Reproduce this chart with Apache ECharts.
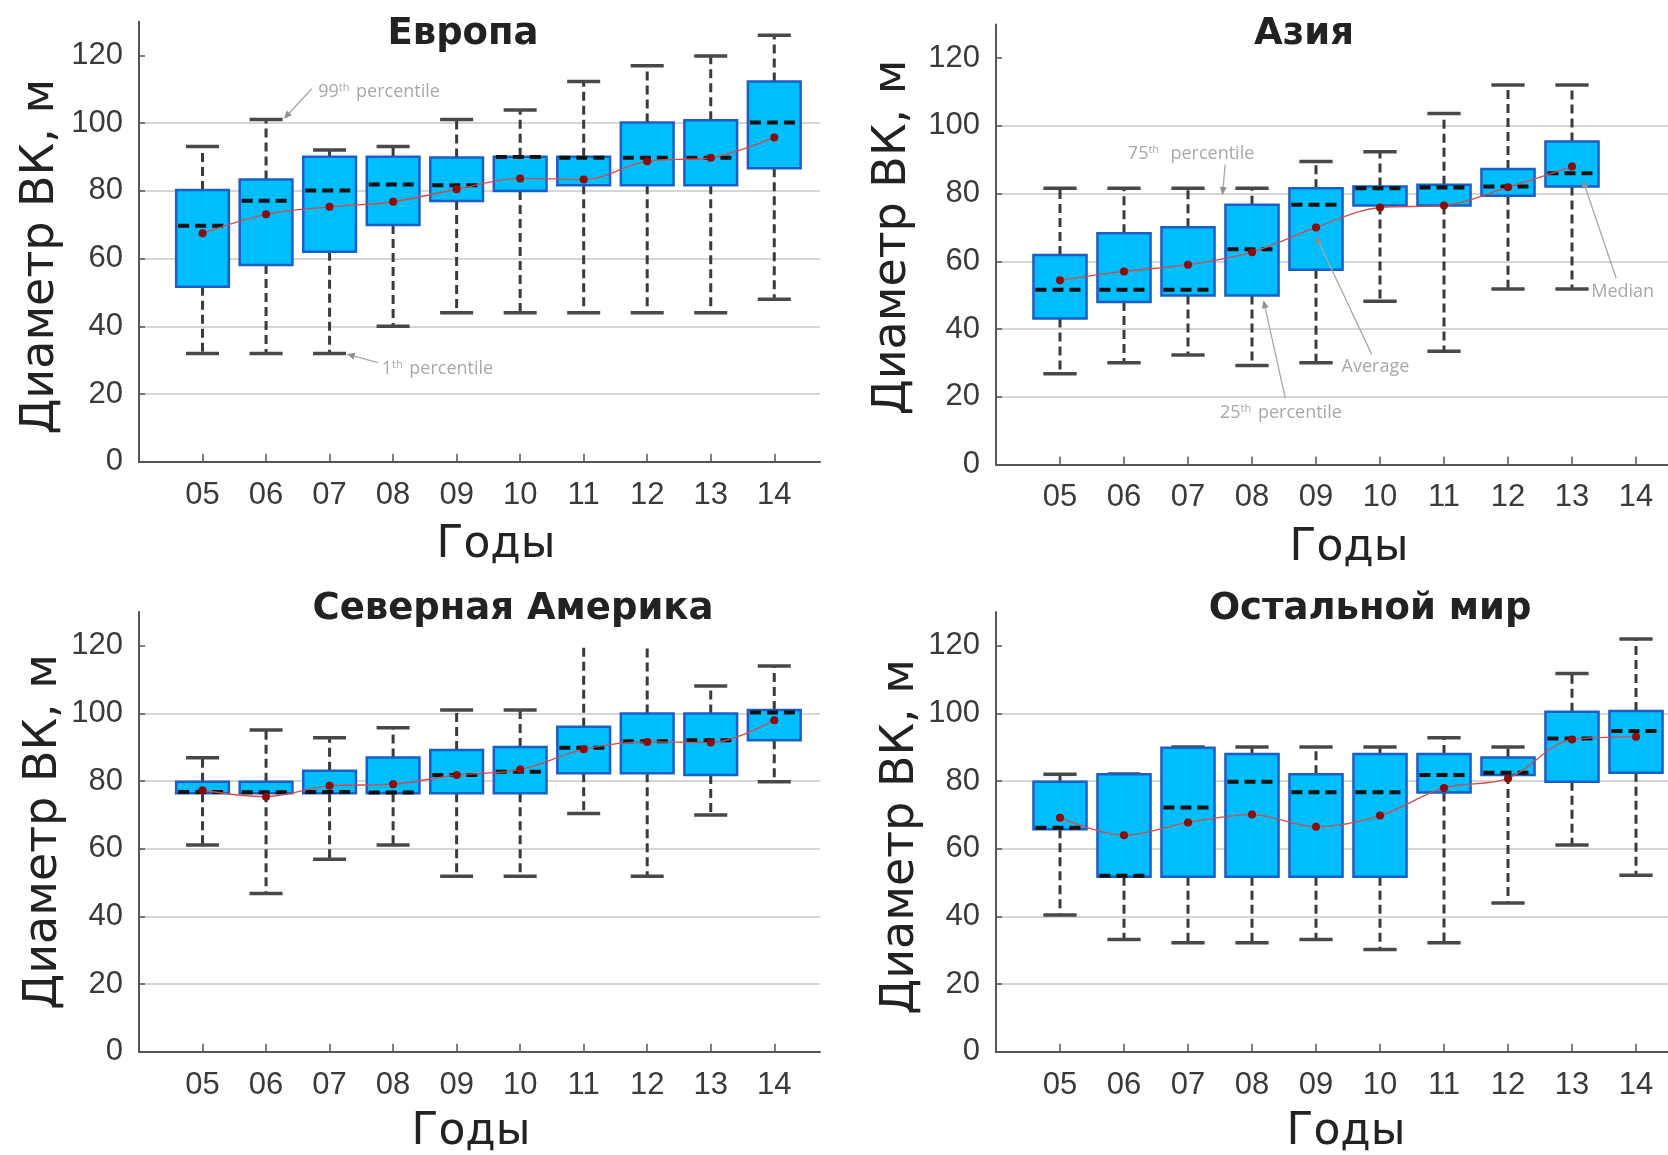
<!DOCTYPE html>
<html>
<head>
<meta charset="utf-8">
<script src="https://cdn.jsdelivr.net/npm/echarts@6/dist/echarts.min.js"></script>
<style>
  html, body { margin: 0; padding: 0; background: #fff; }
  #chart { width: 1668px; height: 1155px; }
</style>
</head>
<body>
<div id="chart"></div>
<script>
const FONT = '"Liberation Sans", Arial, sans-serif'
const WIDE = '"DejaVu Sans", sans-serif'
const NOTE = '"Open Sans", sans-serif'

const years = [5, 6, 7, 8, 9, 10, 11, 12, 13, 14]
const yTicks = [0, 20, 40, 60, 80, 100, 120]

// Европа
const euLow  = [32, 32, 32, 40, 44, 44, 44, 44, 44, 48]
const euQ1   = [51.7, 58.1, 62, 69.9, 77, 80, 81.7, 81.7, 81.7, 86.7]
const euMed  = [69.7, 77.1, 80.1, 81.9, 81.7, 90, 89.8, 89.8, 89.8, 100.2]
const euQ3   = [80.3, 83.4, 90.1, 90.1, 89.9, 90.1, 90.1, 100.2, 100.9, 112.3]
const euHigh = [93.1, 101.1, 92.1, 93.1, 101.1, 103.9, 112.3, 117, 119.9, 126]
const euMean = [67.5, 73.1, 75.3, 76.8, 80.5, 83.7, 83.4, 88.8, 89.8, 95.8]

// Азия (no 2014 box)
const asLow  = [26.8, 30, 32.3, 29.2, 30, 48.2, 33.4, 51.8, 51.8]
const asQ1   = [43.1, 48, 49.9, 49.9, 57.5, 76.5, 76.5, 79.4, 82.1]
const asMed  = [51.6, 51.6, 51.6, 63.6, 76.7, 81.6, 81.8, 82.1, 86]
const asQ3   = [61.9, 68.3, 70.1, 76.7, 81.6, 82.1, 82.6, 87.3, 95.4]
const asHigh = [81.6, 81.6, 81.6, 81.6, 89.5, 92.4, 103.7, 112.1, 112.1]
const asMean = [54.4, 57, 59, 62.7, 70, 75.9, 76.5, 81.9, 88]

// Северная Америка
const naLow  = [61.1, 46.8, 56.9, 61.1, 51.9, 51.9, 70.4, 51.9, 70, 79.8]
const naQ1   = [76.4, 76.4, 76.4, 76.4, 76.4, 76.4, 82.3, 82.3, 81.8, 92.1]
const naMed  = [76.8, 76.7, 76.8, 76.6, 81.8, 82.8, 89.9, 91.8, 92.1, 100.3]
const naQ3   = [79.8, 79.8, 83.1, 87, 89.2, 90.1, 96.1, 100, 100, 101]
const naHigh = [86.9, 95.1, 92.8, 95.8, 101, 101, 119.5, 120, 108.1, 114]
const naMean = [77.3, 75.4, 78.6, 79.1, 81.8, 83.4, 89.4, 91.6, 91.4, 98]
const naNoCap = [11, 12]

// Остальной мир
const rwLow  = [40.4, 33.2, 32.2, 32.2, 33.2, 30.2, 32.2, 44, 61.1, 52.2]
const rwQ1   = [65.8, 51.7, 51.7, 51.7, 51.7, 51.7, 76.6, 81.8, 79.8, 82.5]
const rwMed  = [66.2, 52, 72.2, 79.8, 76.7, 76.7, 81.8, 82.5, 92.6, 94.8]
const rwQ3   = [79.8, 82, 89.9, 88, 82, 88, 88, 87, 100.5, 100.7]
const rwHigh = [82, 82.1, 90.1, 90.1, 90.1, 90.1, 92.8, 90.1, 111.8, 122]
const rwMean = [69.2, 64, 67.8, 70.1, 66.5, 69.8, 78, 80.8, 92.3, 93.1]

// annotations: text, then [textX, textY, lineStartX, lineStartY, arrowX, arrowY] in data units
const euNotes = ['99{s|th} percentile', '1{s|th} percentile']
const euNotePos = [[6.82, 109.3, 6.72, 110.2, 6.28, 101.3], [7.82, 27.4, 7.76, 29.3, 7.27, 31.8]]
const asNotes = ['75{s|th}  percentile', '25{s|th} percentile', 'Average', 'Median']
const asNotePos = [
  [6.06, 91.8, 7.58, 88.6, 7.54, 79.6],
  [7.5, 15.1, 8.52, 19.6, 8.18, 48.5],
  [9.4, 28.8, 9.87, 32.5, 9.0, 67.5],
  [13.3, 51.0, 13.69, 55, 13.17, 84]
]

function boxData (low, q1, med, q3, high, noCap) {
  return low.map((v, i) => [years[i], v, q1[i], med[i], q3[i], high[i], (noCap || []).includes(years[i]) ? 0 : 1])
}

function boxItem (params, api) {
  const x = api.value(0)
  const at = (v) => api.coord([x, v])
  const cx = at(api.value(1))[0]
  const yLow = at(api.value(1))[1]
  const yQ1 = at(api.value(2))[1]
  const yMed = at(api.value(3))[1]
  const yQ3 = at(api.value(4))[1]
  const yHigh = at(api.value(5))[1]
  const unit = api.size([1, 0])[0]
  const bw = unit * 0.83
  const cw = unit * 0.52
  const stem = { stroke: '#3a3a3a', lineWidth: 3, lineDash: [9, 5] }
  const cap = { stroke: '#484848', lineWidth: 3.5 }
  const children = [
    { type: 'line', shape: { x1: cx, y1: yQ1, x2: cx, y2: yLow }, style: stem },
    { type: 'line', shape: { x1: cx, y1: yQ3, x2: cx, y2: yHigh }, style: stem },
    { type: 'line', shape: { x1: cx - cw / 2, y1: yLow, x2: cx + cw / 2, y2: yLow }, style: cap }
  ]
  if (api.value(6)) {
    children.push({ type: 'line', shape: { x1: cx - cw / 2, y1: yHigh, x2: cx + cw / 2, y2: yHigh }, style: cap })
  }
  children.push(
    { type: 'rect', shape: { x: cx - bw / 2, y: yQ3, width: bw, height: yQ1 - yQ3 },
      style: { fill: '#00bdfb', stroke: '#1b5ec6', lineWidth: 2.5 } },
    { type: 'line', shape: { x1: cx - bw / 2 + 2, y1: yMed, x2: cx + bw / 2 - 2, y2: yMed },
      style: { stroke: '#111', lineWidth: 4, lineDash: [11, 6] } }
  )
  return { type: 'group', children }
}

function noteItem (texts) {
  return function (params, api) {
    const p = api.coord([api.value(0), api.value(1)])
    const s = api.coord([api.value(2), api.value(3)])
    const t = api.coord([api.value(4), api.value(5)])
    const ang = Math.atan2(t[1] - s[1], t[0] - s[0])
    const L = 8, W = 3.5
    const bx = t[0] - L * Math.cos(ang)
    const by = t[1] - L * Math.sin(ang)
    const head = [t, [bx + W * Math.sin(ang), by - W * Math.cos(ang)], [bx - W * Math.sin(ang), by + W * Math.cos(ang)]]
    return {
      type: 'group',
      children: [
        { type: 'line', shape: { x1: s[0], y1: s[1], x2: bx, y2: by }, style: { stroke: '#a8a8a8', lineWidth: 1.3 } },
        { type: 'polygon', shape: { points: head }, style: { fill: '#909090' } },
        {
          type: 'text', x: p[0], y: p[1],
          style: {
            text: texts[params.dataIndex], fill: '#a8a8a8', fontSize: 18, fontFamily: NOTE,
            verticalAlign: 'middle', align: 'left',
            rich: { s: { fontSize: 11, fontFamily: NOTE, fill: '#a8a8a8', verticalAlign: 'top', padding: [0, 2, 8, 0] } }
          }
        }
      ]
    }
  }
}

const grids = [
  { left: 139, top: 21.7, width: 681, height: 440 },
  { left: 996, top: 24.4, width: 672, height: 440 },
  { left: 139, top: 612, width: 681, height: 439.7 },
  { left: 996, top: 612, width: 672, height: 439.7 }
]
const xMax = [14.72, 14.5, 14.72, 14.5]
const xNamePad = [[0, 0, 0, 33], [0, 0, 0, 34], [0, 17, 0, 0], [0, 0, 0, 28]]
const xNameGap = [62, 62, 59, 59]
const yNamePad = [[0, 30, 0, 0], [0, 0, 0, 14], [0, 0, 0, 0], [0, 10, 0, 0]]
const yNameGap = [75, 80, 70, 72]

const titles = [
  { text: 'Европа', left: 463, top: 16 },
  { text: 'Азия', left: 1304, top: 16 },
  { text: 'Северная Америка', left: 513, top: 591 },
  { text: 'Остальной мир', left: 1370, top: 591 }
].map(t => ({ ...t, textAlign: 'center', padding: 0,
  textStyle: { fontSize: 37, fontWeight: 'bold', color: '#222', fontFamily: WIDE } }))

const axisLine = { show: true, lineStyle: { color: '#555', width: 2 } }

const xAxes = grids.map((g, i) => ({
  gridIndex: i, type: 'value', min: 4, max: xMax[i], interval: 1,
  axisLine,
  axisTick: { show: true, inside: true, length: 8, customValues: years, lineStyle: { color: '#555', width: 1.5 } },
  axisLabel: { customValues: years, formatter: v => String(v).padStart(2, '0'),
    fontSize: 31, color: '#3a3a3a', margin: 18, fontFamily: FONT },
  splitLine: { show: false },
  name: 'Годы', nameLocation: 'middle', nameGap: xNameGap[i],
  nameTextStyle: { fontSize: 44, color: '#222', fontFamily: WIDE, padding: xNamePad[i] }
}))

const yAxes = grids.map((g, i) => ({
  gridIndex: i, type: 'value', min: 0, max: 130, interval: 20,
  axisLine,
  axisTick: { show: true, inside: true, length: 6, customValues: yTicks, lineStyle: { color: '#555', width: 1.5 } },
  axisLabel: { customValues: yTicks, fontSize: 31, color: '#3a3a3a', margin: 16, fontFamily: FONT },
  splitLine: { show: true, showMaxLine: false, lineStyle: { color: '#d6d6d6', width: 2 } },
  name: 'Диаметр ВК, м', nameLocation: 'middle', nameGap: yNameGap[i], nameRotate: 90,
  nameTextStyle: { fontSize: 46, color: '#222', fontFamily: WIDE, padding: yNamePad[i] }
}))

const panels = [
  boxData(euLow, euQ1, euMed, euQ3, euHigh),
  boxData(asLow, asQ1, asMed, asQ3, asHigh),
  boxData(naLow, naQ1, naMed, naQ3, naHigh, naNoCap),
  boxData(rwLow, rwQ1, rwMed, rwQ3, rwHigh)
]
const means = [euMean, asMean, naMean, rwMean]

const series = []
panels.forEach((data, i) => {
  series.push({
    type: 'custom', xAxisIndex: i, yAxisIndex: i, renderItem: boxItem,
    encode: { x: 0, y: [1, 2, 3, 4, 5] }, data, z: 2
  })
  series.push({
    type: 'line', xAxisIndex: i, yAxisIndex: i, smooth: 0.35,
    data: means[i].map((v, k) => [years[k], v]),
    symbol: 'circle', symbolSize: 8,
    itemStyle: { color: '#8b0b0b' },
    lineStyle: { color: '#d34a4a', width: 1.3 },
    z: 4
  })
})
series.push({
  type: 'custom', xAxisIndex: 0, yAxisIndex: 0, renderItem: noteItem(euNotes),
  encode: { x: 0, y: 1 }, data: euNotePos, z: 6, clip: false
})
series.push({
  type: 'custom', xAxisIndex: 1, yAxisIndex: 1, renderItem: noteItem(asNotes),
  encode: { x: 0, y: 1 }, data: asNotePos, z: 6, clip: false
})

const chart = echarts.init(document.getElementById('chart'))
chart.setOption({
  animation: false,
  backgroundColor: '#fff',
  textStyle: { fontFamily: FONT },
  title: titles,
  grid: grids.map(g => ({ ...g, outerBoundsMode: 'none' })),
  xAxis: xAxes,
  yAxis: yAxes,
  series
})
</script>
</body>
</html>
